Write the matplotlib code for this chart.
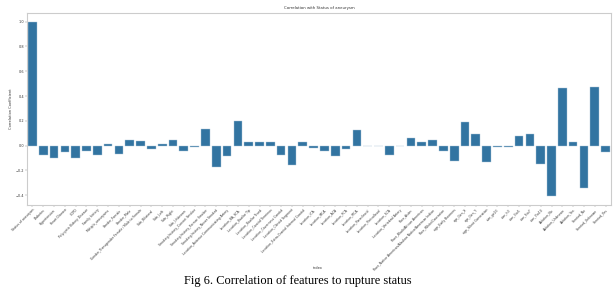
import numpy as np
import matplotlib
matplotlib.use("Agg")
import matplotlib.pyplot as plt

features = [
    "Status of aneurysm", "Diabetes", "Hypertension", "Heart Disease", "COPD",
    "Polycystic Kidney Disease", "Family history", "Multiple_aneurysms",
    "Gender_Female", "Gender_Male", "Gender_Transgender Female / Male to Female",
    "Side_Bilateral", "Side_Left", "Side_Right", "Side_Unknown",
    "Smoking history_Current Smoker", "Smoking history_Former Smoker",
    "Smoking history_Never Smoked", "Location_Anterior Communicating Artery",
    "Location_BA_SCA", "Location_Basilar Tip", "Location_Basilar Trunk",
    "Location_Carotid Terminus", "Location_Cavernous Carotid",
    "Location_Clinoid Segment", "Location_Extra-Cranial Internal Carotid",
    "Location_ICA", "Location_MCA", "Location_ACA", "Location_PCA",
    "Location_PICA", "Location_Paraclinoid", "Location_Pericallosal",
    "Location_SCA", "Location_Vertebral Artery", "Race_Asian",
    "Race_Black/African American",
    "Race_Native American/Alaskan Native/American Indian",
    "Race_White/Caucasian", "age_Early Boomers", "age_Gen_X", "age_Gen_Y",
    "age_Silent Generation", "size_ge10", "size_lt3", "size_3to5", "size_5to7",
    "size_7to10", "Ablation_No", "Ablation_Unknown", "Ablation_Yes",
    "Stented_No", "Stented_Unknown", "Stented_Yes",
]

corr = [
    1.0, -0.08, -0.10, -0.055, -0.10, -0.045, -0.08, 0.016, -0.065, 0.048,
    0.036, -0.03, 0.016, 0.048, -0.045, -0.013, 0.13, -0.175, -0.085, 0.198,
    0.027, 0.025, 0.032, -0.075, -0.16, 0.025, -0.022, -0.046, -0.086, -0.03,
    0.125, -0.005, -0.005, -0.074, -0.003, 0.059, 0.027, 0.043, -0.046, -0.125,
    0.194, 0.094, -0.134, -0.015, -0.013, 0.08, 0.094, -0.153, -0.41, 0.462,
    0.027, -0.344, 0.47, -0.054,
]

bar_color = "#3274a1"
spine_color = "#cccccc"

fig = plt.figure(figsize=(6.16, 2.92), dpi=100)
ax = fig.add_axes([27 / 616, 1 - 205 / 292, 584 / 616, 192 / 292])

x = np.arange(len(features))
ax.bar(x, corr, width=0.8, color=bar_color, edgecolor="#a9c4d8", linewidth=0.3)
ax.set_xlim(-0.5, len(features) - 0.5)

ax.set_xticks(x)
ax.set_xticklabels(features, rotation=45, ha="right", rotation_mode="anchor",
                   fontsize=2.25, color="#333333")
ax.set_yticks([-0.4, -0.2, 0.0, 0.2, 0.4, 0.6, 0.8, 1.0])
ax.tick_params(axis="y", labelsize=2.5, labelcolor="#333333", length=1.2,
               width=0.3, pad=1, color="#888888")
ax.tick_params(axis="x", length=1.2, width=0.3, pad=1, color="#888888")

for s in ax.spines.values():
    s.set_color(spine_color)
    s.set_linewidth(0.8)

ax.set_title("Correlation with Status of aneurysm", fontsize=2.8, pad=3,
             color="#333333")
ax.set_ylabel("Correlation Coefficient", fontsize=2.6, labelpad=2,
              color="#333333")
fig.text(318 / 616, 1 - 268 / 292, "index", fontsize=2.6, ha="center",
         va="center", color="#333333")

fig.text(298 / 616, 1 - 281 / 292,
         "Fig 6. Correlation of features to rupture status",
         fontsize=8.9, family="Liberation Serif", ha="center", va="center")

fig.savefig("out.png", dpi=100)
